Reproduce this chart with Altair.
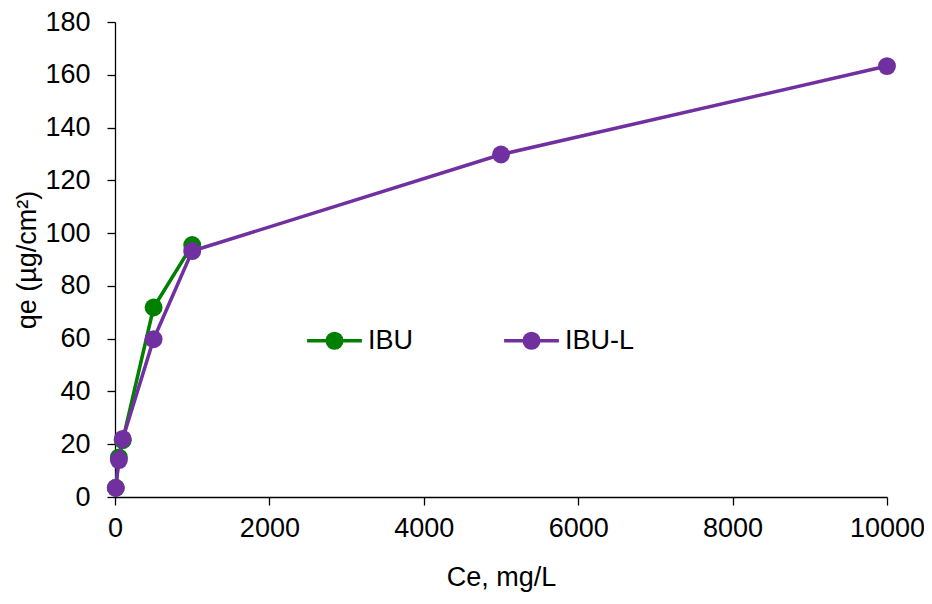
import altair as alt
import pandas as pd

series = ["IBU", "IBU-L"]
colors = ["#008000", "#7030A0"]

ibu_ce = [10, 50, 100, 500, 1000]
ibu_qe = [3.5, 15.0, 21.5, 71.8, 95.5]

ibul_ce = [10, 50, 100, 500, 1000, 5000, 10000]
ibul_qe = [3.4, 14.0, 22.0, 59.8, 93.2, 129.8, 163.3]

x_ticks = [0, 2000, 4000, 6000, 8000, 10000]
y_ticks = [0, 20, 40, 60, 80, 100, 120, 140, 160, 180]

df = pd.DataFrame({
    "series": ["IBU"] * len(ibu_ce) + ["IBU-L"] * len(ibul_ce),
    "ce": ibu_ce + ibul_ce,
    "qe": ibu_qe + ibul_qe,
})

FONT = "Liberation Sans"
FS = 27

cscale = alt.Scale(domain=series, range=colors)

xenc = alt.X("ce:Q", title="Ce, mg/L",
             scale=alt.Scale(domain=[0, 10000], nice=False, zero=True),
             axis=alt.Axis(values=x_ticks, format="d", labelPadding=10,
                           titlePadding=23, tickSize=8, labelFlush=False))
yenc = alt.Y("qe:Q", title="qe (µg/cm²)",
             scale=alt.Scale(domain=[0, 180], nice=False),
             axis=alt.Axis(values=y_ticks, format="d", labelPadding=17,
                           titlePadding=3, tickSize=8, labelFlush=False))

sym_path = "M-1,0L1,0M-0.27,0A0.27,0.27,0,1,1,0.27,0A0.27,0.27,0,1,1,-0.27,0Z"
leg = alt.Legend(title=None, orient="none", legendX=190, legendY=289,
                 direction="horizontal", symbolType=sym_path, symbolSize=3000,
                 symbolStrokeWidth=3.3, labelFont=FONT, labelFontSize=FS,
                 labelColor="black", labelOffset=4, columnPadding=83,
                 symbolOpacity=1)

layers = []
for i, s in enumerate(series):
    base = alt.Chart(df).transform_filter(alt.datum.series == s)
    line = base.mark_line(strokeWidth=3.5).encode(
        x=xenc, y=yenc,
        stroke=alt.Stroke("series:N", scale=cscale, legend=leg),
    )
    pts = base.mark_point(filled=True, size=320, opacity=1, strokeWidth=0).encode(
        x=xenc, y=yenc,
        fill=alt.Fill("series:N", scale=cscale, legend=leg),
    )
    layers += [line, pts]

chart = alt.layer(*layers).properties(
    width=772, height=475,
    background="white",
    autosize=alt.AutoSizeParams(type="none"),
    padding={"left": 107, "top": 14, "right": 37, "bottom": 98},
).configure_view(stroke=None).configure_axis(
    grid=False, domainColor="black", tickColor="black", domainWidth=1.3,
    tickWidth=1.3, labelFont=FONT, labelFontSize=FS, labelColor="black",
    titleFont=FONT, titleFontSize=FS, titleFontWeight="normal", titleColor="black",
)

chart.save("out.html", embed_options={"renderer": "svg", "actions": False})
